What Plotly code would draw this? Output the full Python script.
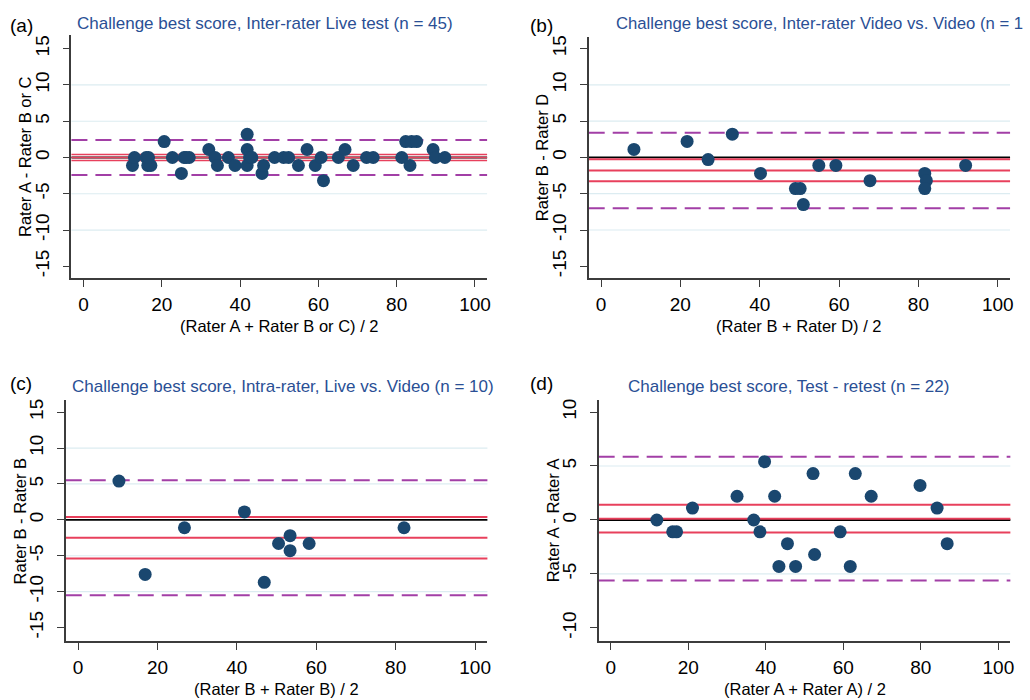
import plotly.graph_objects as go

W, H = 1030, 700
FONT = "Liberation Sans, Arial, sans-serif"

# ---------------- data ----------------
# (a) Inter-rater Live test
a_x = [12.5, 13.0, 16.0, 16.4, 17.2, 16.6, 20.6, 22.7, 25.0, 25.7, 27.0, 32.0, 33.6, 34.2, 37.0,
       38.7, 41.8, 41.8, 41.8, 42.4, 45.6, 46.0, 48.8, 51.1, 52.4, 54.9, 57.1, 59.2, 60.7, 61.3,
       65.1, 66.8, 68.9, 72.3, 74.0, 81.3, 82.3, 83.4, 83.8, 85.1, 89.3, 89.9, 92.3, 26.2, 43.0]
a_y = [-1.1, 0, 0, -1.1, -1.1, 0, 2.2, 0, -2.2, 0, 0, 1.1, 0, -1.1, 0,
       -1.1, 3.2, 1.1, -1.1, 0, -2.2, -1.1, 0, 0, 0, -1.1, 1.1, -1.1, 0, -3.2,
       0, 1.1, -1.1, 0, 0, 0, 2.2, -1.1, 2.2, 2.2, 1.1, 0, 0, 0, 0]
a_mean = 0.0
a_ci = [0.42, -0.42]
a_loa = [2.4, -2.4]

# (b) Inter-rater Video vs. Video
b_x = [8.3, 21.7, 27.0, 33.1, 40.2, 49.0, 50.2, 51.0, 54.9, 59.2, 67.8, 81.6, 82.0, 81.6, 91.9]
b_y = [1.1, 2.2, -0.3, 3.2, -2.2, -4.3, -4.3, -6.5, -1.1, -1.1, -3.2, -2.2, -3.2, -4.3, -1.1]
b_mean = -1.8
b_ci = [-0.25, -3.3]
b_loa = [3.4, -7.0]

# (c) Intra-rater, Live vs. Video
c_x = [10.3, 16.9, 26.8, 41.9, 46.9, 50.5, 53.4, 53.4, 58.2, 82.1]
c_y = [5.4, -7.6, -1.1, 1.1, -8.7, -3.3, -2.2, -4.3, -3.3, -1.1]
c_mean = -2.5
c_ci = [0.4, -5.4]
c_loa = [5.5, -10.5]

# (d) Test - retest
d_x = [11.9, 16.0, 17.0, 21.1, 32.6, 36.9, 38.5, 39.7, 42.3, 43.4, 45.6, 47.7, 52.2, 52.6,
       59.2, 61.8, 63.1, 67.2, 79.8, 84.2, 86.8]
d_y = [0, -1.1, -1.1, 1.1, 2.2, 0, -1.1, 5.4, 2.2, -4.3, -2.2, -4.3, 4.3, -3.2,
       -1.1, -4.3, 4.3, 2.2, 3.2, 1.1, -2.2]
d_mean = 0.12
d_ci = [1.4, -1.15]
d_loa = [5.85, -5.6]

x_ticks = [0, 20, 40, 60, 80, 100]
y_ticks_wide = [-15, -10, -5, 0, 5, 10, 15]
y_ticks_narrow = [-10, -5, 0, 5, 10]
grid_wide = [-10, -5, 5, 10]
grid_narrow = [-5, 5]

panels = [
    dict(label="(a)", title="Challenge best score, Inter-rater Live test (n = 45)",
         xtitle="(Rater A + Rater B or C) / 2", ytitle="Rater A - Rater B or C",
         x=a_x, y=a_y, mean=a_mean, ci=a_ci, loa=a_loa, yticks=y_ticks_wide, grid=grid_wide,
         px=(71.7, 489.0), py=(33.0, 276.7), yr=(-16.6, 16.9), redw=1.6),
    dict(label="(b)", title="Challenge best score, Inter-rater Video vs. Video (n = 1",
         xtitle="(Rater B + Rater D) / 2", ytitle="Rater B - Rater D",
         x=b_x, y=b_y, mean=b_mean, ci=b_ci, loa=b_loa, yticks=y_ticks_wide, grid=grid_wide,
         px=(591.0, 1014.0), py=(35.0, 276.7), yr=(-16.6, 16.6), redw=2),
    dict(label="(c)", title="Challenge best score, Intra-rater, Live vs. Video (n = 10)",
         xtitle="(Rater B + Rater B) / 2", ytitle="Rater B - Rater B",
         x=c_x, y=c_y, mean=c_mean, ci=c_ci, loa=c_loa, yticks=y_ticks_wide, grid=grid_wide,
         px=(66.0, 489.3), py=(399.3, 640.7), yr=(-16.86, 16.67), redw=2),
    dict(label="(d)", title="Challenge best score, Test - retest (n = 22)",
         xtitle="(Rater A + Rater A) / 2", ytitle="Rater A - Rater A",
         x=d_x, y=d_y, mean=d_mean, ci=d_ci, loa=d_loa, yticks=y_ticks_narrow, grid=grid_narrow,
         px=(601.0, 1014.3), py=(399.3, 640.7), yr=(-11.2, 11.1), redw=2),
]

MARKER = "#1a476f"
RED = "#e8405c"
PURPLE = "#a23fa6"
GRID = "#dcecf1"
TITLE_BLUE = "#2a4f95"
AXIS = "#3c3c3c"

fig = go.Figure()
layout = dict(width=W, height=H, autosize=False, margin=dict(l=0, r=0, t=0, b=0),
              paper_bgcolor="white", plot_bgcolor="white", showlegend=False,
              font=dict(family=FONT, color="black"))
shapes, annotations = [], []

for i, p in enumerate(panels):
    n = "" if i == 0 else str(i + 1)
    xa, ya = "xaxis" + n, "yaxis" + n
    xr, yref = "x" + n, "y" + n
    x0p, x1p = p["px"]
    y0p, y1p = p["py"]
    layout[xa] = dict(domain=[x0p / W, x1p / W], range=[-3.1, 103.1], anchor=yref,
                      tickvals=x_ticks, ticktext=[str(v) for v in x_ticks],
                      ticks="outside", ticklen=7, tickwidth=1.3, tickcolor=AXIS,
                      showline=True, linecolor=AXIS, linewidth=1.5, showgrid=False,
                      zeroline=False, tickfont=dict(size=19, color="black", family=FONT),
                      ticklabelstandoff=2)
    layout[ya] = dict(domain=[1 - y1p / H, 1 - y0p / H], range=list(p["yr"]), anchor=xr,
                      tickvals=p["yticks"], ticktext=[str(v) for v in p["yticks"]],
                      tickangle=-90, ticks="outside", ticklen=7, tickwidth=1.3, tickcolor=AXIS,
                      showline=True, linecolor=AXIS, linewidth=1.5, showgrid=False,
                      zeroline=False, tickfont=dict(size=19, color="black", family=FONT),
                      ticklabelstandoff=6)
    # grid lines
    for g in p["grid"]:
        shapes.append(dict(type="line", xref=xr + " domain", yref=yref, x0=0, x1=1, y0=g, y1=g,
                           line=dict(color=GRID, width=1.2), layer="below"))
    # zero line
    shapes.append(dict(type="line", xref=xr + " domain", yref=yref, x0=0, x1=1, y0=0, y1=0,
                       line=dict(color="black", width=1.8), layer="below"))
    # mean and CI lines
    for v in [p["ci"][0], p["mean"], p["ci"][1]]:
        shapes.append(dict(type="line", xref=xr + " domain", yref=yref, x0=0, x1=1, y0=v, y1=v,
                           line=dict(color=RED, width=p["redw"]), layer="below"))
    # limits of agreement
    for v in p["loa"]:
        shapes.append(dict(type="line", xref=xr + " domain", yref=yref, x0=0, x1=1, y0=v, y1=v,
                           line=dict(color=PURPLE, width=2, dash="16px,8px"), layer="below"))
    fig.add_trace(go.Scatter(x=p["x"], y=p["y"], mode="markers", xaxis=xr, yaxis=yref,
                             marker=dict(color=MARKER, size=13, line=dict(width=0)),
                             hoverinfo="skip"))
    # texts
    cx = (x0p + x1p) / 2
    is_top = i < 2
    label_x = 8 if i % 2 == 0 else 530
    label_y = 24 if is_top else 383
    annotations.append(dict(text=p["label"], xref="paper", yref="paper", x=label_x / W,
                            y=1 - label_y / H, xanchor="left", yanchor="middle", showarrow=False,
                            font=dict(size=19, color="black", family=FONT)))
    if i == 1:
        annotations.append(dict(text=p["title"], xref="paper", yref="paper", x=616 / W,
                                y=1 - 22 / H, xanchor="left", yanchor="middle", showarrow=False,
                                font=dict(size=16.7, color=TITLE_BLUE, family=FONT)))
    else:
        tcx = {0: 266, 2: 284.5, 3: 791.5}[i]
        ty = 22 if is_top else 386
        annotations.append(dict(text=p["title"], xref="paper", yref="paper", x=tcx / W,
                                y=1 - ty / H, xanchor="center", yanchor="middle", showarrow=False,
                                font=dict(size=17, color=TITLE_BLUE, family=FONT)))
    # x title
    xt_y = y1p + 48
    annotations.append(dict(text=p["xtitle"], xref="paper", yref="paper", x=cx / W,
                            y=1 - xt_y / H, xanchor="center", yanchor="middle", showarrow=False,
                            font=dict(size=16.5, color="black", family=FONT)))
    # y title
    yt_x = x0p - 46
    ycen = (y0p + y1p) / 2
    annotations.append(dict(text=p["ytitle"], xref="paper", yref="paper", x=yt_x / W,
                            y=1 - ycen / H, xanchor="center", yanchor="middle", showarrow=False,
                            textangle=-90, font=dict(size=16.5, color="black", family=FONT)))

layout["shapes"] = shapes
layout["annotations"] = annotations
fig.update_layout(**layout)
fig.write_html("out.html", config={"displayModeBar": False},
               post_script="document.body.style.margin='0';document.body.style.overflow='hidden';")
